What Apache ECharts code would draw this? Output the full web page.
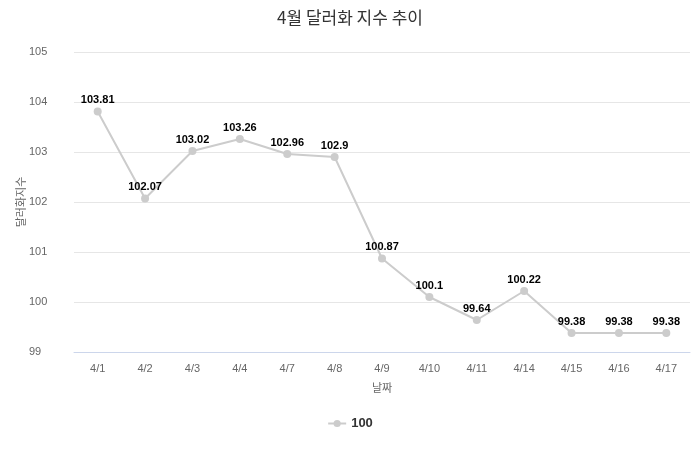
<!DOCTYPE html>
<html>
<head>
<meta charset="utf-8">
<script src="https://cdn.jsdelivr.net/npm/echarts@6/dist/echarts.min.js"></script>
<style>
  html, body { margin: 0; padding: 0; background: #fff; }
  #chart { width: 700px; height: 450px; }
</style>
</head>
<body>
<div id="chart"></div>
<script>
// 날짜와 달러화 지수 값
const dates = ['4/1', '4/2', '4/3', '4/4', '4/7', '4/8', '4/9', '4/10', '4/11', '4/14', '4/15', '4/16', '4/17'];
const dollarIndex = [103.81, 102.07, 103.02, 103.26, 102.96, 102.9, 100.87, 100.1, 99.64, 100.22, 99.38, 99.38, 99.38];
const seriesName = '100';

const myChart = echarts.init(document.getElementById('chart'));

const option = {
    title: {
        text: '4월 달러화 지수 추이',
        left: 'center',
        top: 4,
        textStyle: { fontSize: 17, fontWeight: 'normal', color: '#333', fontFamily: 'Noto Sans CJK KR' }
    },
    legend: {
        bottom: 15,
        data: [seriesName],
        itemWidth: 18,
        itemHeight: 9,
        textStyle: { fontSize: 13, color: '#333', fontWeight: 'bold' }
    },
    grid: { left: 74, right: 10, top: 52, bottom: 98, outerBoundsMode: 'none' },
    xAxis: {
        type: 'category',
        data: dates,
        name: '날짜',
        nameLocation: 'middle',
        nameGap: 30,
        nameTextStyle: { color: '#666', fontSize: 11, fontFamily: 'Noto Sans CJK KR' },
        axisLine: { lineStyle: { color: '#ccd6eb' } },
        axisTick: { show: false },
        axisLabel: { color: '#666', fontSize: 11, margin: 11 }
    },
    yAxis: {
        type: 'value',
        min: 99,
        max: 105,
        interval: 1,
        name: '달러화지수',
        nameLocation: 'middle',
        nameGap: 48,
        nameMoveOverlap: false,
        nameTextStyle: { color: '#666', fontSize: 11, fontFamily: 'Noto Sans CJK KR' },
        axisLabel: { color: '#666', fontSize: 11, margin: 45, align: 'left' },
        splitLine: { lineStyle: { color: '#e6e6e6' } }
    },
    series: [{
        name: seriesName,
        type: 'line',
        data: dollarIndex,
        symbol: 'circle',
        symbolSize: 8,
        lineStyle: { color: '#cccccc', width: 2 },
        itemStyle: { color: '#cccccc' },
        label: {
            show: true,
            position: 'top',
            distance: 2,
            color: '#000',
            fontWeight: 'bold',
            fontSize: 11
        }
    }]
};

myChart.setOption(option);
</script>
</body>
</html>
